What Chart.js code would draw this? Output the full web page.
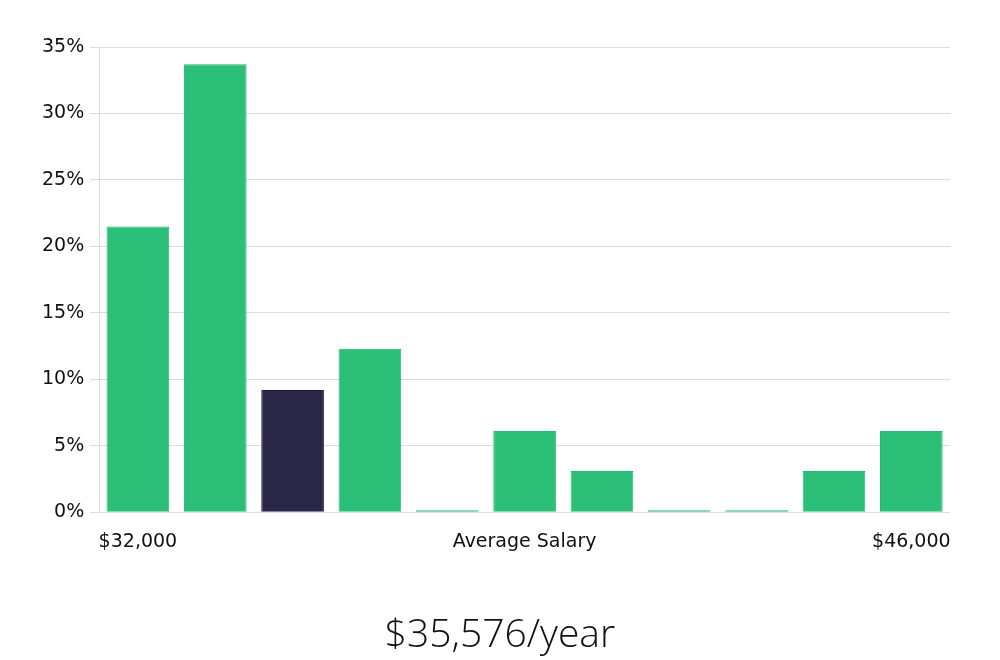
<!DOCTYPE html>
<html>
<head>
<meta charset="utf-8">
<script src="https://cdn.jsdelivr.net/npm/chart.js@4/dist/chart.umd.min.js"></script>
<style>
  html, body { margin: 0; padding: 0; background: #fff; }
  #wrap { width: 1000px; height: 660px; position: relative; }
  #avg {
    position: absolute; left: 0; width: 1000px; top: 609px;
    text-align: center; line-height: 46px; height: 46px;
    font-family: "Open Sans", "Noto Sans", sans-serif; font-weight: 300; font-size: 39px;
    color: #111;
  }
</style>
</head>
<body>
<div id="wrap"><canvas id="salaryChart"></canvas><div id="avg"></div></div>
<script>
const categories = ['$32,000', '', '', '', '', 'Average Salary', '', '', '', '', '$46,000'];
const shares = [21.5, 33.7, 9.2, 12.3, 0, 6.1, 3.1, 0, 0, 3.1, 6.1];
const highlightIndex = 2;
const yTicks = [0, 5, 10, 15, 20, 25, 30, 35];
const averageLabel = '$35,576/year';

const green = '#2bbf77';
const greenEdge = '#22b86e';
const navy = '#2a2648';

document.getElementById('avg').textContent = averageLabel;

const ctx = document.getElementById('salaryChart').getContext('2d');
new Chart(ctx, {
    type: 'bar',
    data: {
        labels: categories,
        datasets: [{
            data: shares,
            backgroundColor: shares.map((v, i) => i === highlightIndex ? navy : green),
            borderColor: shares.map((v, i) => i === highlightIndex ? '#1e1b3c' : greenEdge),
            borderWidth: 1,
            minBarLength: 2,
            categoryPercentage: 0.9,
            barPercentage: 0.9
        }]
    },
    options: {
        responsive: true,
        maintainAspectRatio: false,
        animation: false,
        layout: { padding: { top: 47, right: 50, left: 36, bottom: 97 } },
        plugins: {
            legend: { display: false },
            tooltip: { enabled: false }
        },
        scales: {
            y: {
                min: 0,
                max: 35,
                afterBuildTicks: axis => { axis.ticks = yTicks.map(v => ({ value: v })); },
                ticks: {
                    callback: v => v + '%',
                    color: '#111',
                    padding: 6,
                    font: { family: '"DejaVu Sans", sans-serif', size: 19 }
                },
                grid: { color: '#dcdcdc', tickLength: 9 },
                border: { display: true, color: '#dcdcdc' }
            },
            x: {
                ticks: {
                    autoSkip: false,
                    maxRotation: 0,
                    color: '#111',
                    padding: 10,
                    font: { family: '"DejaVu Sans", sans-serif', size: 19 }
                },
                grid: { display: false },
                border: { display: false }
            }
        }
    }
});
</script>
</body>
</html>
